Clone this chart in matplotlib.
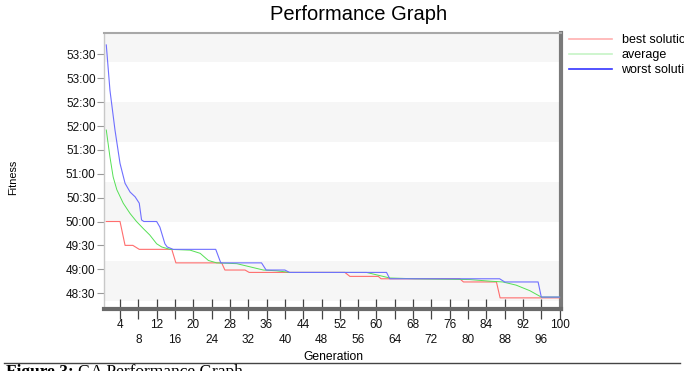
import matplotlib
matplotlib.use("Agg")
import matplotlib.pyplot as plt
from matplotlib.lines import Line2D
from matplotlib.ticker import FuncFormatter, FixedLocator
import numpy as np

plt.rcParams['font.family'] = ['Liberation Sans', 'DejaVu Sans']

# ---- data (fitness in seconds, shown as mm:ss) ----
best_gen = [1, 4, 5.1, 6.8, 8.2, 15.3, 16.2, 26.2, 26.9, 31.3, 32.2, 53.1, 54.2,
            60.4, 61, 78.2, 79, 86.2, 87, 100]
best_val = [3000, 3000, 2970, 2970, 2965, 2965, 2948, 2948, 2939, 2939, 2936, 2936,
            2931, 2931, 2928, 2928, 2924, 2924, 2904, 2904]

avg_gen = [1, 1.8, 2.5, 3.3, 4.7, 6.2, 7.6, 9.1, 10.5, 12, 13.1, 14.9, 19.3, 21.5,
           23.3, 25.1, 29.5, 32.4, 35.3, 38.2, 41.1, 57.8, 62.9, 68.4, 80.4, 84.7,
           87.6, 90.5, 93.5, 96, 100]
avg_val = [3115, 3081, 3056, 3040, 3023, 3010, 3000, 2991, 2983, 2972, 2968, 2965,
           2964, 2960, 2951, 2948, 2947, 2943, 2939, 2938, 2936, 2936, 2929, 2928,
           2927, 2925, 2924, 2920, 2913, 2905, 2905]

worst_gen = [1, 1.8, 2.9, 4, 5.1, 6.2, 7.3, 8.2, 8.7, 9.2, 12, 12.7, 13.8, 14.3,
             15.6, 24.9, 26, 34.9, 35.9, 40, 41, 62.2, 62.9, 86.9, 88, 95.3, 96, 100]
worst_val = [3222, 3165, 3115, 3073, 3048, 3037, 3031, 3023, 3002, 3000, 3000, 2993,
             2972, 2968, 2965, 2965, 2948, 2948, 2939, 2939, 2936, 2936, 2928, 2928,
             2924, 2924, 2905, 2905]

series_labels = ["best solution", "average", "worst solution"]
x_major = list(range(4, 101, 8))    # 4, 12, ..., 100
x_minor = list(range(8, 97, 8))     # 8, 16, ..., 96
y_ticks = list(range(2910, 3211, 30))

W, H = 684, 371
fig = plt.figure(figsize=(W / 100, H / 100), dpi=100)

def fx(px):
    return px / W

def fy(py):
    return 1 - py / H

left, right, top, bottom = 104, 561, 33, 309
ax = fig.add_axes([fx(left), fy(bottom), fx(right) - fx(left), fy(top) - fy(bottom)])

ax.set_xlim(0.5, 100.3)
ax.set_ylim(2890, 3237)

# alternating background bands
edges = np.arange(2900, 3251, 50)
for i in range(len(edges) - 1):
    if i % 2 == 0:
        ax.axhspan(edges[i], edges[i + 1], color='#f6f6f6', lw=0, zorder=0)

ax.plot(best_gen, best_val, color='#ff6e6e', lw=0.8, zorder=3)
ax.plot(avg_gen, avg_val, color='#55e055', lw=0.7, zorder=4)
ax.plot(worst_gen, worst_val, color='#6f6fff', lw=0.8, zorder=5)

# y axis
ax.yaxis.set_major_locator(FixedLocator(y_ticks))
ax.yaxis.set_major_formatter(FuncFormatter(lambda v, p: f"{int(v // 60)}:{int(round(v % 60)):02d}"))
ax.tick_params(axis='y', direction='out', length=5, width=0.8, color='#999999',
               labelsize=8.5, pad=1, labelcolor='#111111')

# x axis: two rows of labels
ax.xaxis.set_major_locator(FixedLocator(x_major))
ax.xaxis.set_minor_locator(FixedLocator(x_minor))
ax.xaxis.set_major_formatter(FuncFormatter(lambda v, p: f"{int(v)}"))
ax.xaxis.set_minor_formatter(FuncFormatter(lambda v, p: f"{int(v)}"))
ax.tick_params(axis='x', which='major', direction='inout', length=14, width=0.9,
               color='#444444', labelsize=8.5, pad=0, labelcolor='#111111')
ax.tick_params(axis='x', which='minor', direction='inout', length=14, width=0.9,
               color='#444444', labelsize=8.5, pad=11, labelcolor='#111111')

ax.spines['left'].set_color('#c8c8c8')
ax.spines['left'].set_linewidth(1.0)
ax.spines['top'].set_color('#a8a8a8')
ax.spines['top'].set_linewidth(1.5)
ax.spines['right'].set_color('#7a7a7a')
ax.spines['right'].set_linewidth(3)
ax.spines['bottom'].set_color('#6a6a6a')
ax.spines['bottom'].set_linewidth(3)

# labels
fig.text(fx(359), fy(15), "Performance Graph", ha='center', va='center', fontsize=14.5)
fig.text(fx(333), fy(357), "Generation", ha='center', va='center', fontsize=8.7)
fig.text(fx(13), fy(177), "Fitness", ha='center', va='center', rotation=90, fontsize=7.8)

# legend
handles = [Line2D([], [], color='#ffb0b0', lw=1.2),
           Line2D([], [], color='#c6f3c6', lw=1.2),
           Line2D([], [], color='#3535ff', lw=1.2)]
fig.legend(handles, series_labels, loc='upper left',
           bbox_to_anchor=(fx(569), fy(34)), frameon=False, fontsize=9,
           handlelength=3.4, handletextpad=0.8, labelspacing=0.25,
           borderpad=0, borderaxespad=0)

# caption rule and caption
fig.add_artist(Line2D([fx(4), fx(680)], [fy(362.5), fy(362.5)], color='#444444', lw=1.0))
t1 = fig.text(fx(6), fy(364), "Figure 3:", fontsize=12.5, fontweight='bold',
              family=['Liberation Serif', 'DejaVu Serif'], va='top', ha='left')
fig.canvas.draw()
bb = t1.get_window_extent(renderer=fig.canvas.get_renderer())
fig.text((bb.x1 + 4) / W, fy(364), "GA Performance Graph", fontsize=12.5,
         family=['Liberation Serif', 'DejaVu Serif'], va='top', ha='left')

fig.savefig("out.png", dpi=100)
